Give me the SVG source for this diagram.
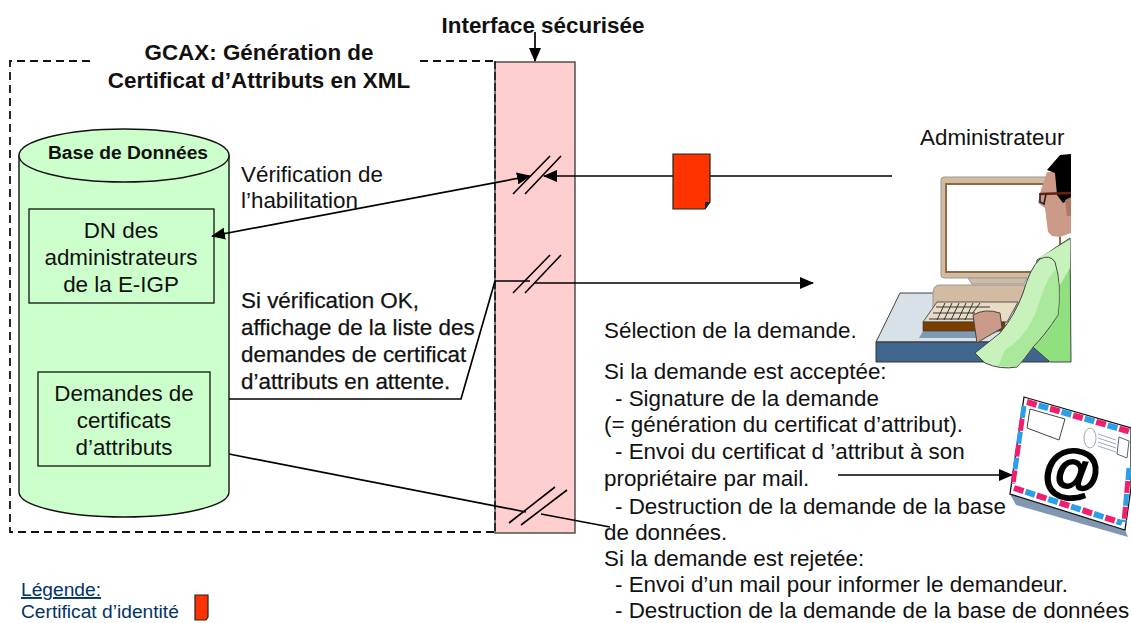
<svg xmlns="http://www.w3.org/2000/svg" width="1131" height="623" viewBox="0 0 1131 623">
<style>
text{font-family:"Liberation Sans",Arial,sans-serif;fill:#111}
.t{font-size:22.400px}
.d{font-size:22.400px;stroke:#111;stroke-width:.25}
.b{font-size:22.400px;font-weight:bold}
.l{font-size:19.200px;fill:#003366}
.m{text-anchor:middle}
.c{stroke:#000;fill:none;stroke-width:1.700}
.k{stroke:#000;fill:none;stroke-width:1.600}
.pk{stroke:#f01e6e;fill:none}
.bl{stroke:#2ba0e8;fill:none}
</style>
<defs>
<marker id="a" viewBox="0 0 14 12" refX="13" refY="6" markerWidth="14" markerHeight="12" markerUnits="userSpaceOnUse" orient="auto-start-reverse"><path d="M0 0L14 6L0 12Z" fill="#000"/></marker>
</defs>
<g id="perimetre"><path d="M90 61H10V532H495M420 61H495" fill="none" stroke="#111" stroke-width="1.800" stroke-dasharray="8 5"/></g>
<g id="interface"><rect x="495" y="62" width="80" height="471" fill="#ffcfcf" stroke="#444" stroke-width="1.400"/><path d="M495 61V532" fill="none" stroke="#111" stroke-width="1.500" stroke-dasharray="8 3"/>
<text class="b m" x="543" y="33">Interface sécurisée</text></g>
<g id="titre"><text class="b m" x="259" y="60">GCAX: Génération de</text><text class="b m" x="259" y="88">Certificat d’Attributs en XML</text></g>
<g id="base"><path d="M19 155V492C19 506 66 517 124 517S229 506 229 492V155" fill="#ccffcc" stroke="#111" stroke-width="1.400"/><ellipse cx="124" cy="155.500" rx="105" ry="26.500" fill="#ccffcc" stroke="#111" stroke-width="1.400"/>
<text class="m" style="font-size:19.200px;font-weight:bold" x="128" y="159">Base de Données</text></g>
<g id="dn"><rect x="29" y="209" width="185" height="94" fill="#ccffcc" stroke="#111" stroke-width="1.300"/><text class="t m" x="121" y="238">DN des</text><text class="t m" x="121" y="265">administrateurs</text><text class="t m" x="121" y="292">de la E-IGP</text></g>
<g id="demandes"><rect x="38" y="372" width="172" height="94" fill="#ccffcc" stroke="#111" stroke-width="1.300"/><text class="t m" x="124" y="401">Demandes de</text><text class="t m" x="124" y="428">certificats</text><text class="t m" x="124" y="455">d’attributs</text></g>
<g id="connecteurs">
<path class="c" d="M530 176L212 236" marker-start="url(#a)" marker-end="url(#a)"/>
<path class="c" d="M892 176H544" marker-end="url(#a)"/>
<path class="c" d="M229 399H461L495 281H530"/>
<path class="c" d="M534 283H813" marker-end="url(#a)"/>
<path class="c" d="M229 454L526 512M541 514L610 527"/>
<path class="c" d="M535 32V61" marker-end="url(#a)"/>
<path class="c" d="M838 475H1012" marker-end="url(#a)"/>
<path class="k" d="M513 194L550 156M525 194L561 156M513 293L550 255M525 293L561 255M509 523L555 487M521 525L567 490"/>
</g>
<g id="certificat"><path d="M673 154H710V202L705 209H673Z" fill="#ff3300" stroke="#222" stroke-width="1.200"/><path d="M710 202L705 202L705 209Z" fill="#222"/></g>
<g id="textes">
<text class="t" x="241" y="182">Vérification de</text><text class="t" x="241" y="208">l’habilitation</text>
<text class="d" x="241" y="308">Si vérification OK,</text><text class="d" x="241" y="335">affichage de la liste des</text><text class="d" x="241" y="362">demandes de certificat</text><text class="d" x="241" y="389">d’attributs en attente.</text>
<text class="t" x="604" y="338">Sélection de la demande.</text>
<text class="t" x="604" y="379">Si la demande est acceptée:</text>
<text class="t" x="615" y="406">- Signature de la demande</text>
<text class="t" x="604" y="432">(= génération du certificat d’attribut).</text>
<text class="t" x="615" y="459">- Envoi du certificat d ’attribut à son</text>
<text class="t" x="604" y="486">propriétaire par mail.</text>
<text class="t" x="615" y="514">- Destruction de la demande de la base</text>
<text class="t" x="604" y="540">de données.</text>
<text class="t" x="604" y="566">Si la demande est rejetée:</text>
<text class="t" x="615" y="592">- Envoi d’un mail pour informer le demandeur.</text>
<text class="t" x="615" y="618">- Destruction de la demande de la base de données</text>
<text class="t" x="920" y="145">Administrateur</text>
</g>
<g id="legende"><text class="l" x="21" y="596" text-decoration="underline">Légende:</text><text class="l" x="21" y="618">Certificat d’identité</text><path d="M195 595H208V617L206 620H195Z" fill="#ff3300" stroke="#222" stroke-width="1.200"/></g>
<g id="administrateur">
<path d="M876 342L900 293H1020L1050 342Z" fill="#d8e0e8" stroke="#444"/><path d="M876 342H1049V362H876Z" fill="#40668e" stroke="#333"/><path d="M919 338L923 331H1000L980 338Z" fill="#7f9ab5"/>
<path d="M941 180Q941 177 944 177H1060V278H944Q941 278 941 275Z" fill="#d2bba0" stroke="#999"/><path d="M946 184H1060V272H946Z" fill="#fff" stroke="#8f6a44" stroke-width="2"/>
<path d="M968 278H1027L1024 284H972Z" fill="#d2bba0" stroke="#999"/>
<path d="M933 293Q933 285 940 285H1030V311H933Z" fill="#d2bba0" stroke="#999"/>
<path d="M923 322L937 302H1018L1007 322Z" fill="#e8dcc6" stroke="#555"/><rect x="923" y="322" width="82" height="9" fill="#7a3f00" stroke="#333" stroke-width=".6"/>
<path d="M929 319L985 319M933 313H975M936 307H990M945 303L937 320M952 303L944 320M959 303L951 320M966 303L958 320M973 303L965 320M980 303L972 314" stroke="#333" fill="none"/>
<path d="M973 315Q985 308 1000 313L1002 328L985 338L977 343Z" fill="#cc9a88" stroke="#444"/>
<path d="M1037 260L1070 238L1071 362H1050L1025 340Z" fill="#91e07f" stroke="#444"/>
<path d="M1040 257L1070 240V268L1060 285Z" fill="#c8f2bc"/>
<path d="M975 353L1000 333Q1015 315 1023 293Q1030 268 1040 259Q1050 254 1055 262Q1062 285 1058 315Q1045 335 1033 347Q1024 360 1017 367Q1000 370 985 363Z" fill="#c8f2bc" stroke="#444"/>
<path d="M1005 350Q1030 335 1040 300Q1048 275 1056 270Q1062 290 1058 315L1033 347L1017 367L998 366Z" fill="#91e07f" opacity=".55"/>
<path d="M1047 172L1041 190L1038 203L1045 208L1048 232L1052 236L1060 237L1071 233V172Z" fill="#cc9a88"/>
<path d="M1047 170L1060 155L1071 154V198L1063 203L1057 195L1055 173Z" fill="#000"/>
<path d="M1065 200L1071 197V216L1067 216Z" fill="#b07860"/>
<path d="M1040 194L1071 193" stroke="#6a2010" stroke-width="2.500" fill="none"/><path d="M1040 193V202L1044 204L1046 194" fill="none" stroke="#222" stroke-width="1.600"/>
</g>
<g id="courriel">
<path d="M1010 494L1125 530L1128 537L1016 505Z" fill="#7f97b0"/>
<path d="M1024 397L1131 428V488L1125 530L1010 494Z" fill="#fff" stroke="#111" stroke-width="1.300"/>
<path class="pk" d="M1027 402L1131 432M1014 488L1122 523" stroke-width="6" stroke-dasharray="10 14"/>
<path class="bl" d="M1027 402L1131 432M1014 488L1122 523" stroke-width="6" stroke-dasharray="10 14" stroke-dashoffset="12"/>
<path class="bl" d="M1024 406L1013 484M1129 468L1124 522" stroke-width="5" stroke-dasharray="12 14"/>
<path class="pk" d="M1024 406L1013 484M1129 468L1124 522" stroke-width="5" stroke-dasharray="12 14" stroke-dashoffset="13"/>
<path d="M1030 409L1065 419L1059 440L1027 428Z" fill="#fff" stroke="#444"/>
<ellipse cx="1090" cy="438" rx="6" ry="10" fill="#fff" stroke="#9ab"/>
<path d="M1098 434L1116 440M1098 438L1116 444M1098 442L1116 448M1098 446L1116 452" stroke="#9ab"/>
<path d="M1119 437L1129 441L1127 458L1117 454Z" fill="#fff" stroke="#567"/>
<text x="1072" y="491" text-anchor="middle" transform="rotate(8 1072 472)" style="font-size:60px;font-weight:bold;fill:#000;stroke:#000;stroke-width:1.500">@</text>
</g>
</svg>
